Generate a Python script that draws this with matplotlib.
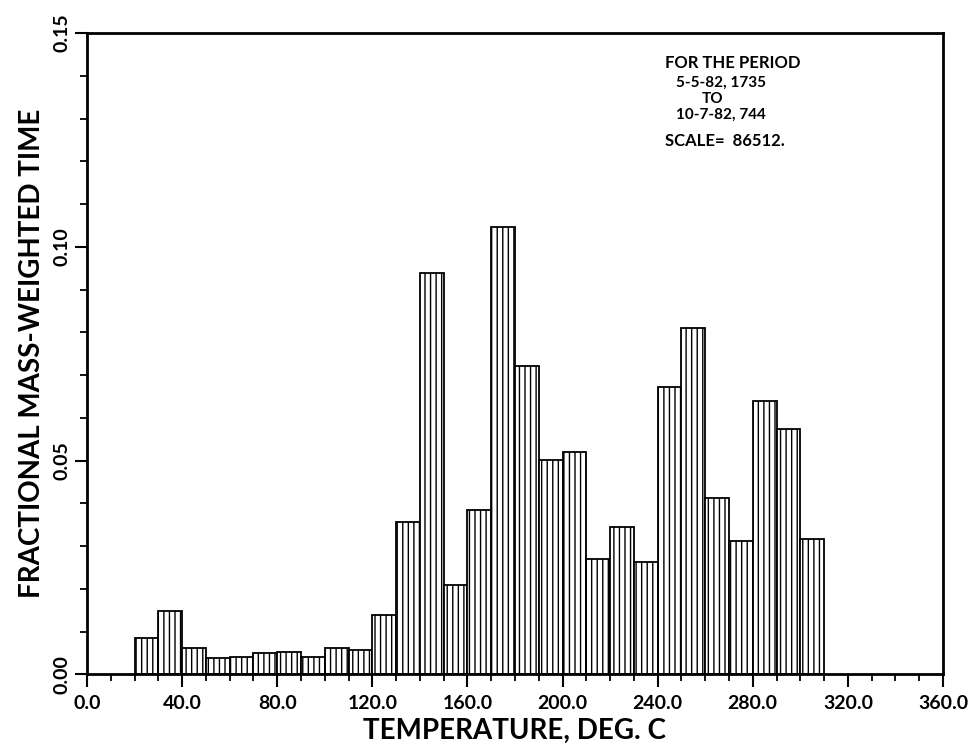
import matplotlib
matplotlib.use("Agg")
import matplotlib.pyplot as plt
import numpy as np

plt.rcParams['hatch.linewidth'] = 1.0
plt.rcParams['font.family'] = ['Lato', 'DejaVu Sans']

bin_left = [20, 30, 40, 50, 60, 70, 80, 90, 100, 110, 120, 130, 140, 150, 160,
            170, 180, 190, 200, 210, 220, 230, 240, 250, 260, 270, 280, 290, 300]
bin_width = 10
fraction = [0.0086, 0.0148, 0.0062, 0.0039, 0.0041, 0.0051, 0.0052, 0.0040,
            0.0062, 0.0057, 0.0139, 0.0357, 0.0938, 0.0210, 0.0385, 0.1046,
            0.0722, 0.0501, 0.0520, 0.0270, 0.0345, 0.0262, 0.0673, 0.0811,
            0.0412, 0.0313, 0.0640, 0.0574, 0.0317]

x_ticks = [0, 40, 80, 120, 160, 200, 240, 280, 320, 360]
x_tick_labels = ["0.0", "40.0", "80.0", "120.0", "160.0", "200.0", "240.0",
                 "280.0", "320.0", "360.0"]
y_ticks = [0.0, 0.05, 0.10, 0.15]
y_tick_labels = ["0.00", "0.05", "0.10", "0.15"]

fig = plt.figure(figsize=(9.8, 7.5), dpi=100)
ax = fig.add_axes([0.0888, 0.1009, 0.8734, 0.8551])

ax.bar(bin_left, fraction, width=bin_width, align='edge', facecolor='white',
       edgecolor='black', linewidth=1.3, hatch='|||')

ax.set_xlim(0, 360)
ax.set_ylim(0, 0.15)
ax.set_xticks(x_ticks)
ax.set_xticklabels(x_tick_labels, fontsize=14, fontweight='bold')
ax.set_xticks(np.arange(0, 361, 10), minor=True)
ax.set_yticks(y_ticks)
ax.set_yticklabels(y_tick_labels, fontsize=14, fontweight='bold', rotation=90,
                   va='center')
ax.set_yticks(np.arange(0, 0.1501, 0.01), minor=True)

ax.tick_params(axis='both', which='major', direction='out', length=9, width=1.5,
               color='black')
ax.tick_params(axis='both', which='minor', direction='out', length=5, width=1.3)
ax.tick_params(axis='x', pad=6)
ax.tick_params(axis='y', pad=3)
for s in ax.spines.values():
    s.set_linewidth(2.0)

ax.set_xlabel("TEMPERATURE, DEG. C", fontsize=20, fontweight='bold', labelpad=4)
ax.set_ylabel("FRACTIONAL MASS-WEIGHTED TIME", fontsize=20, fontweight='bold',
              labelpad=6)

tf = dict(fontsize=12, fontweight='bold', transform=fig.transFigure,
          ha='left', va='center')
tf2 = dict(tf, fontsize=11)
fig.text(665 / 980, 1 - 63 / 750, "FOR THE PERIOD", **tf)
fig.text(676 / 980, 1 - 83 / 750, "5-5-82, 1735", **tf2)
fig.text(702 / 980, 1 - 99 / 750, "TO", **tf2)
fig.text(676 / 980, 1 - 115 / 750, "10-7-82, 744", **tf2)
fig.text(665 / 980, 1 - 141 / 750, "SCALE=  86512.", **tf)

fig.savefig("out.png", dpi=100)
